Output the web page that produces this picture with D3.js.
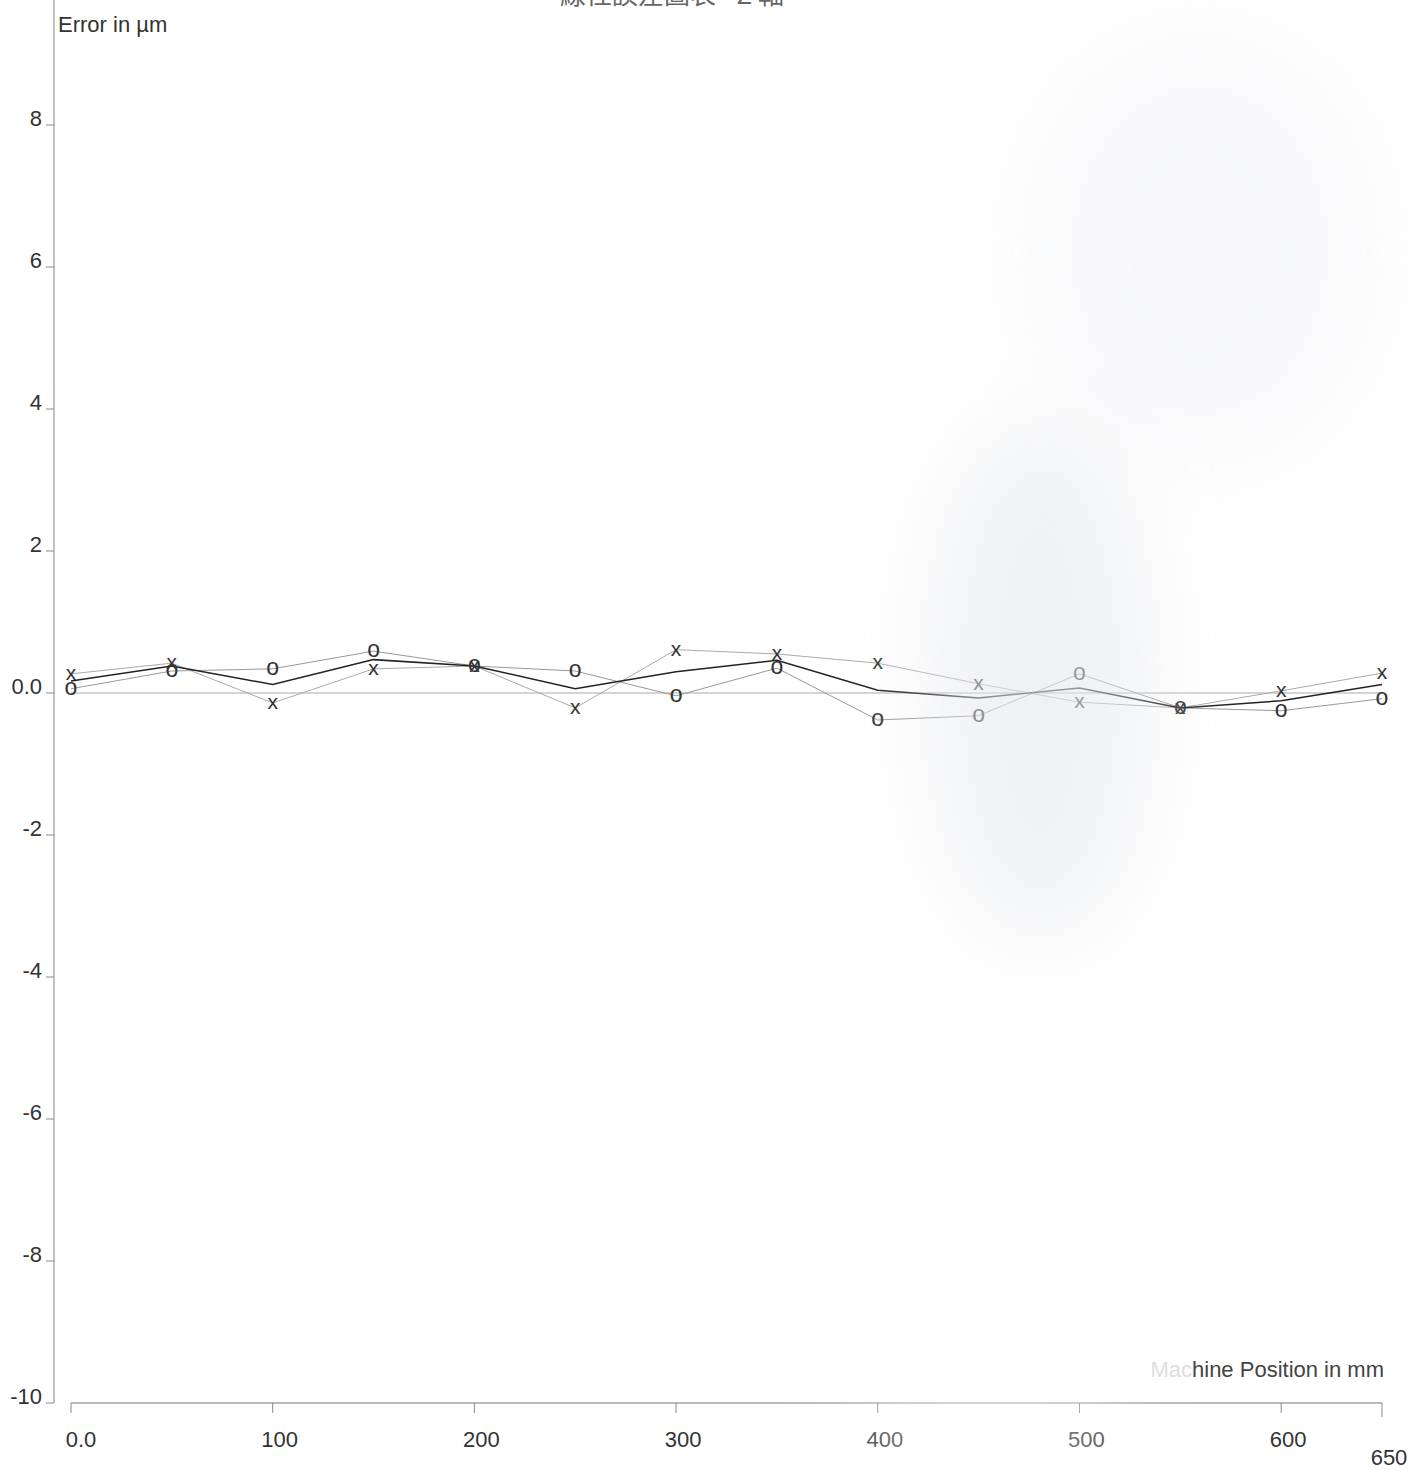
<!DOCTYPE html>
<html>
<head>
<meta charset="utf-8">
<script src="https://cdn.jsdelivr.net/npm/d3@7"></script>
<style>
  body { margin: 0; background: #fff; }
  svg text { font-family: "Liberation Sans", Arial, sans-serif; }
</style>
</head>
<body>
<svg id="chart" width="1424" height="1470"></svg>
<script>
// Linear error chart - Z axis
const positions = [0, 50, 100, 150, 200, 250, 300, 350, 400, 450, 500, 550, 600, 650];
const runX = [0.27, 0.42, -0.14, 0.34, 0.38, -0.21, 0.61, 0.55, 0.42, 0.13, -0.13, -0.21, 0.03, 0.28];
const runO = [0.06, 0.31, 0.34, 0.59, 0.38, 0.31, -0.04, 0.35, -0.38, -0.32, 0.27, -0.21, -0.25, -0.08];
const meanLine = [0.17, 0.38, 0.12, 0.47, 0.38, 0.06, 0.30, 0.46, 0.04, -0.07, 0.07, -0.21, -0.11, 0.12];
const yTicks = [8, 6, 4, 2, 0, -2, -4, -6, -8, -10];
const xTicks = [0, 100, 200, 300, 400, 500, 600, 650];

let svg = d3.select("#chart");

let x = d3.scaleLinear().domain([0, 650]).range([71, 1382]);
let y = d3.scaleLinear().domain([-10, 10]).range([1403, -17]);

// scan smudge
let defs = svg.append("defs");
defs.append("filter").attr("id", "blur").attr("x", "-50%").attr("y", "-50%")
  .attr("width", "200%").attr("height", "200%")
  .append("feGaussianBlur").attr("stdDeviation", 45);

// title, cut at the top edge
svg.append("text")
  .attr("x", 672).attr("y", 4)
  .attr("text-anchor", "middle")
  .style("font-family", "'Noto Sans CJK TC', sans-serif")
  .style("font-size", "26px").attr("fill", "#666")
  .text("線性誤差圖表 - Z 軸");

// y axis
svg.append("line").attr("x1", 54).attr("x2", 54).attr("y1", 0).attr("y2", y(-10))
  .attr("stroke", "#999").attr("stroke-width", 1.2);
let yg = svg.append("g");
yg.selectAll("line").data(yTicks).join("line")
  .attr("x1", 46).attr("x2", 54)
  .attr("y1", d => y(d)).attr("y2", d => y(d))
  .attr("stroke", "#888");
yg.selectAll("text").data(yTicks).join("text")
  .attr("x", 42).attr("y", d => y(d) + 1)
  .attr("text-anchor", "end")
  .style("font-size", "22px").attr("fill", "#333")
  .text(d => d === 0 ? "0.0" : d);

svg.append("text").attr("x", 58).attr("y", 32)
  .style("font-size", "22px").attr("fill", "#333")
  .text("Error in µm");

// x axis
svg.append("line").attr("x1", x(0)).attr("x2", x(650)).attr("y1", y(-10)).attr("y2", y(-10))
  .attr("stroke", "#777").attr("stroke-width", 1.2);
let xg = svg.append("g");
xg.selectAll("line").data(xTicks).join("line")
  .attr("x1", d => x(d)).attr("x2", d => x(d))
  .attr("y1", y(-10)).attr("y2", d => d === 650 ? y(-10) + 14 : y(-10) + 10)
  .attr("stroke", "#888");
xg.selectAll("text").data(xTicks).join("text")
  .attr("x", d => x(d) + (d === 0 ? 10 : 7))
  .attr("y", d => d === 650 ? 1465 : 1447)
  .attr("text-anchor", "middle")
  .style("font-size", "22px").attr("fill", "#333")
  .text(d => d === 0 ? "0.0" : d);

let xt = svg.append("text").attr("x", 1384).attr("y", 1377)
  .attr("text-anchor", "end")
  .style("font-size", "22px").attr("fill", "#444");
xt.append("tspan").attr("fill", "#ddd").text("Mac");
xt.append("tspan").text("hine Position in mm");

// zero line
svg.append("line").attr("x1", x(0)).attr("x2", x(650)).attr("y1", y(0)).attr("y2", y(0))
  .attr("stroke", "#aaa").attr("stroke-width", 1);

// series lines
let line = d3.line().x((d, i) => x(positions[i])).y(d => y(d));
svg.append("path").datum(runX).attr("d", line)
  .attr("fill", "none").attr("stroke", "#aaa").attr("stroke-width", 1);
svg.append("path").datum(runO).attr("d", line)
  .attr("fill", "none").attr("stroke", "#999").attr("stroke-width", 1);
svg.append("path").datum(meanLine).attr("d", line)
  .attr("fill", "none").attr("stroke", "#222").attr("stroke-width", 1.5);

// markers
svg.append("g").selectAll("text").data(runX).join("text")
  .attr("x", (d, i) => x(positions[i])).attr("y", d => y(d) + 6)
  .attr("text-anchor", "middle")
  .style("font-size", "21px").attr("fill", "#333")
  .text("x");
svg.append("g").selectAll("text").data(runO).join("text")
  .attr("x", (d, i) => x(positions[i])).attr("y", d => y(d) + 6)
  .attr("text-anchor", "middle")
  .style("font-size", "23px").attr("fill", "#333")
  .text("o");

// faded scan patch over the right half
svg.append("ellipse").attr("cx", 1040).attr("cy", 680).attr("rx", 110).attr("ry", 260)
  .attr("fill", "#e6e8ec").attr("opacity", 0.6).attr("filter", "url(#blur)");
svg.append("ellipse").attr("cx", 1200).attr("cy", 250).attr("rx", 180).attr("ry", 220)
  .attr("fill", "#f2f3f6").attr("opacity", 0.5).attr("filter", "url(#blur)");
svg.append("ellipse").attr("cx", 990).attr("cy", 1430).attr("rx", 140).attr("ry", 40)
  .attr("fill", "#fff").attr("opacity", 0.7).attr("filter", "url(#blur)");
</script>
</body>
</html>
